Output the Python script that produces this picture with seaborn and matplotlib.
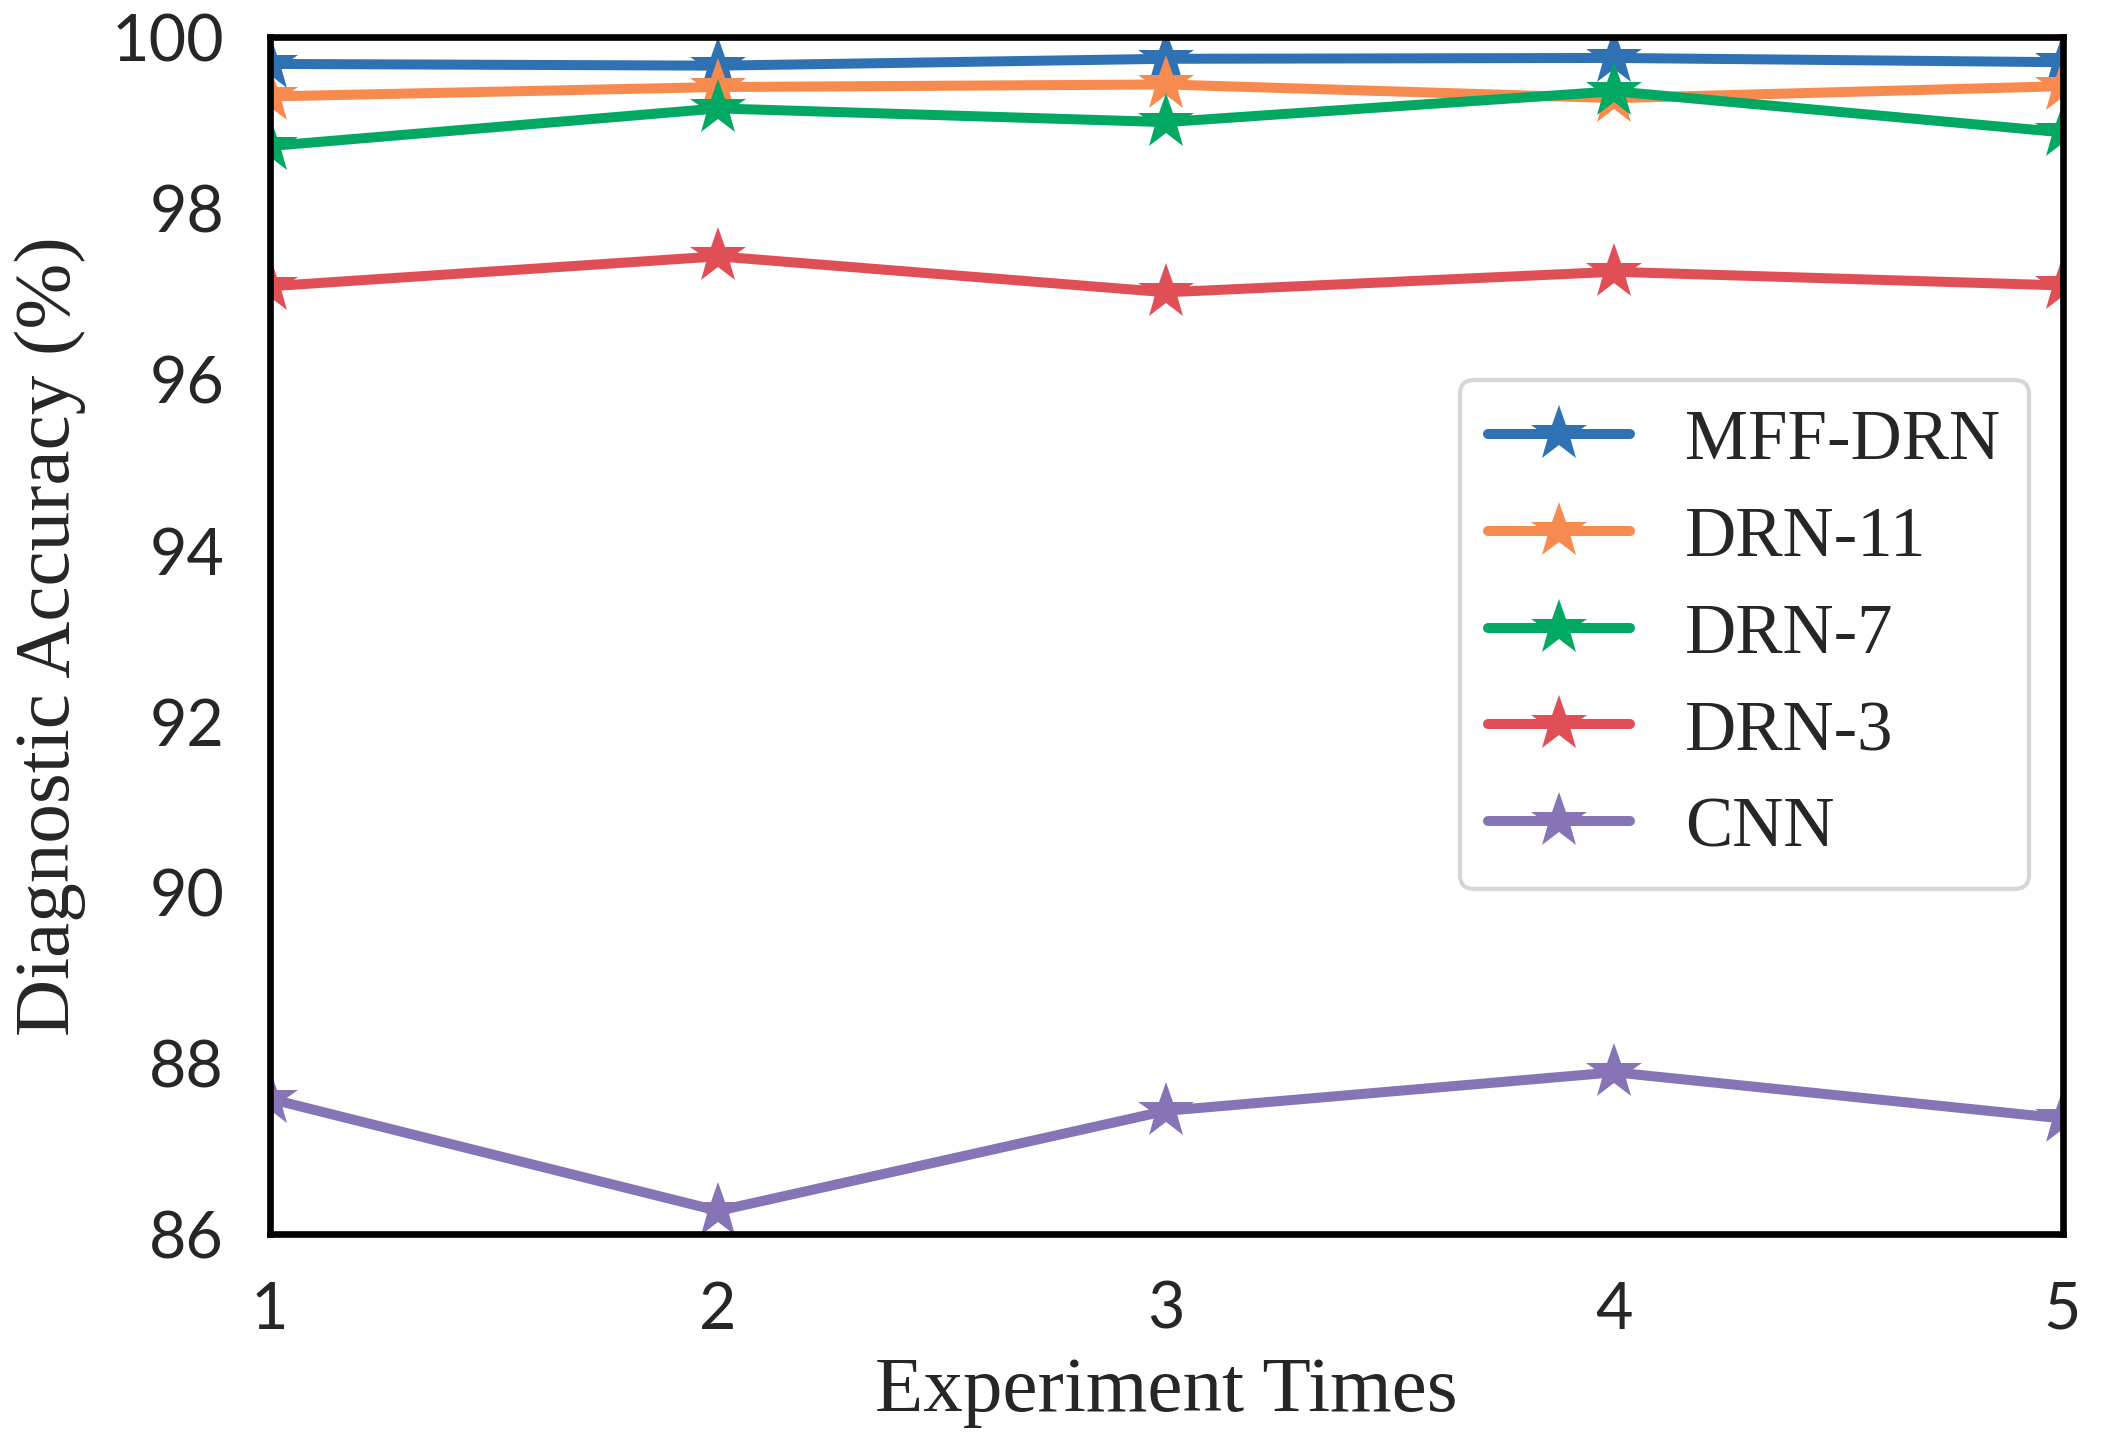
import pandas as pd
import matplotlib.pyplot as plt
import seaborn as sns

# datos
experimentos = [1, 2, 3, 4, 5]
modelos = ["MFF-DRN", "DRN-11", "DRN-7", "DRN-3", "CNN"]
mff_drn = [99.68, 99.66, 99.74, 99.75, 99.70]
drn_11 = [99.30, 99.41, 99.44, 99.28, 99.42]
drn_7 = [98.72, 99.16, 99.00, 99.36, 98.88]
drn_3 = [97.08, 97.43, 97.01, 97.25, 97.09]
cnn = [87.58, 86.27, 87.44, 87.89, 87.35]
colores = ["#2f72b4", "#f78a4f", "#00a862", "#e14f56", "#8774b7"]

valores = [mff_drn, drn_11, drn_7, drn_3, cnn]
df = pd.DataFrame({
    "exp": experimentos * len(modelos),
    "acc": [v for serie in valores for v in serie],
    "modelo": [m for m in modelos for _ in experimentos],
})

sns.set_style("white")
plt.rcParams["font.family"] = ["Liberation Serif", "DejaVu Serif"]

fig, ax = plt.subplots(figsize=(7.03, 4.803), dpi=300)
fig.subplots_adjust(left=0.128, right=0.978, top=0.974, bottom=0.143)

sns.lineplot(
    data=df, x="exp", y="acc", hue="modelo", hue_order=modelos,
    palette=colores, marker="*", markersize=14, markeredgewidth=0,
    linewidth=2.4, ax=ax,
)

ax.set_xlim(1, 5)
ax.set_ylim(86, 100)
ax.set_xticks(experimentos)
ax.set_yticks([86, 88, 90, 92, 94, 96, 98, 100])
ax.tick_params(length=0, pad=11, labelsize=15.5)
for lbl in ax.get_xticklabels() + ax.get_yticklabels():
    lbl.set_family("Lato")
ax.set_xlabel("Experiment Times", fontsize=19, labelpad=4)
ax.set_ylabel("Diagnostic Accuracy (%)", fontsize=19, labelpad=6)

for s in ax.spines.values():
    s.set_color("black")
    s.set_linewidth(1.6)

leg = ax.legend(
    loc="upper right", bbox_to_anchor=(0.981, 0.713), borderaxespad=0,
    fontsize=17, frameon=True, handlelength=2.0, labelspacing=0.45,
    handletextpad=0.78, borderpad=0.4,
)
leg.get_frame().set_edgecolor("#cccccc")
leg.get_frame().set_linewidth(1.0)
for h in leg.get_lines():
    h.set_linewidth(2.4)

plt.savefig("out.png", dpi=300)
